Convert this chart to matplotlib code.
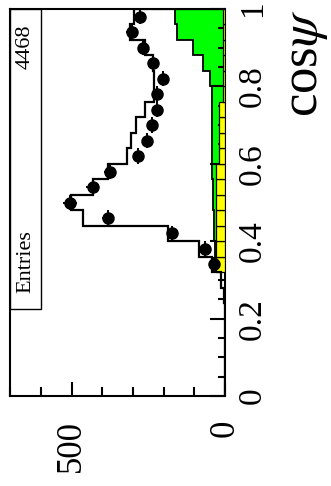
import numpy as np
import matplotlib
matplotlib.use("Agg")
import matplotlib.pyplot as plt
from matplotlib.patches import Rectangle
from matplotlib.ticker import MultipleLocator, FixedLocator

plt.rcParams['font.family'] = ['Liberation Serif', 'DejaVu Serif']
plt.rcParams['mathtext.fontset'] = 'stix'

# 25 bins of cos(psi) between 0 and 1
edges = np.linspace(0.0, 1.0, 26)
centers = 0.5 * (edges[:-1] + edges[1:])

# measured events per bin
data_counts = [0, 0, 0, 0, 0, 0, 0, 0, 37, 64, 172, 380, 505, 431, 375, 283,
               255, 239, 223, 223, 201, 234, 266, 304, 276]
# signal + background simulation
mc_counts = [0, 0, 0, 0, 0, 0, 4, 12, 42, 85, 185, 463, 501, 430, 381, 321,
             305, 289, 261, 233, 232, 234, 261, 309, 296]
# background components
bkg_total = [0, 0, 0, 0, 0, 0, 0, 0, 33, 34, 36, 37, 38, 40, 43, 43,
             44, 44, 42, 44, 50, 73, 104, 158, 163]
bkg_part = [0, 0, 0, 0, 0, 0, 0, 0, 28, 28, 28, 28, 28, 28, 28, 19,
            19, 19, 19, 7, 7, 7, 7, 7, 7]
n_entries = 4468

fig = plt.figure(figsize=(3.31, 4.86), dpi=100)
ax = fig.add_axes([10/331, 90/486, 215/331, 387/486])

# everything is drawn turned on its side: counts run right-to-left
ax.stairs(bkg_total, edges, orientation='horizontal', fill=True,
          color='#00ff00', zorder=1)
ax.stairs(bkg_total, edges, orientation='horizontal', color='black',
          lw=1.3, zorder=2)
ax.barh(centers, bkg_part, height=0.04, color='#ffff00', edgecolor='black',
        lw=0.9, zorder=3)
ax.stairs(mc_counts, edges, orientation='horizontal', color='black',
          lw=1.6, zorder=4)

d = np.array(data_counts, dtype=float)
sel = d > 0
ax.errorbar(d[sel], centers[sel], xerr=np.sqrt(d[sel]), yerr=0.02,
            fmt='o', color='black', ms=8, elinewidth=1.4, capsize=0, zorder=5)

ax.set_xlim(701, 0)
ax.set_ylim(0, 1)

ax.yaxis.tick_right()
ax.xaxis.set_major_locator(FixedLocator([0, 500]))
ax.xaxis.set_minor_locator(MultipleLocator(100))
ax.yaxis.set_major_locator(MultipleLocator(0.2))
ax.yaxis.set_minor_locator(MultipleLocator(0.05))
ax.set_yticks([0, 0.2, 0.4, 0.6, 0.8, 1.0])
ax.set_yticklabels(['0', '0.2', '0.4', '0.6', '0.8', '1'])
ax.set_xticks([0, 500])
ax.set_xticklabels(['0', '500'])

ax.tick_params(axis='x', which='major', direction='in', length=10, width=1.5,
               labelsize=25, pad=17, top=False)
ax.tick_params(axis='x', which='minor', direction='in', length=6.5, width=1.5,
               top=False)
ax.tick_params(axis='y', which='major', direction='in', length=10.5, width=1.5,
               labelsize=24, pad=9, left=False, right=True)
ax.tick_params(axis='y', which='minor', direction='in', length=5, width=1.5,
               left=False, right=True)

for lab in ax.get_xticklabels():
    lab.set_rotation(90)
    lab.set_ha('center')
    lab.set_va('top')
for lab in ax.get_yticklabels():
    lab.set_rotation(90)
    lab.set_va('center')
    lab.set_ha('left')

for sp in ax.spines.values():
    sp.set_linewidth(1.5)

# statistics box
ax.add_patch(Rectangle((0, 0.225), 0.144, 0.775, transform=ax.transAxes,
                       facecolor='white', edgecolor='black', lw=1.0, zorder=6))
ax.text(0.072, 0.266, 'Entries', transform=ax.transAxes, rotation=90,
        ha='center', va='bottom', fontsize=16, zorder=7)
ax.text(0.072, 0.959, str(n_entries), transform=ax.transAxes, rotation=90,
        ha='center', va='top', fontsize=16, zorder=7)

fig.text(306/331, 1 - 9/486, r'cos$\psi$', rotation=90, ha='center', va='top',
         fontsize=38)

fig.savefig('out.png', dpi=100)
